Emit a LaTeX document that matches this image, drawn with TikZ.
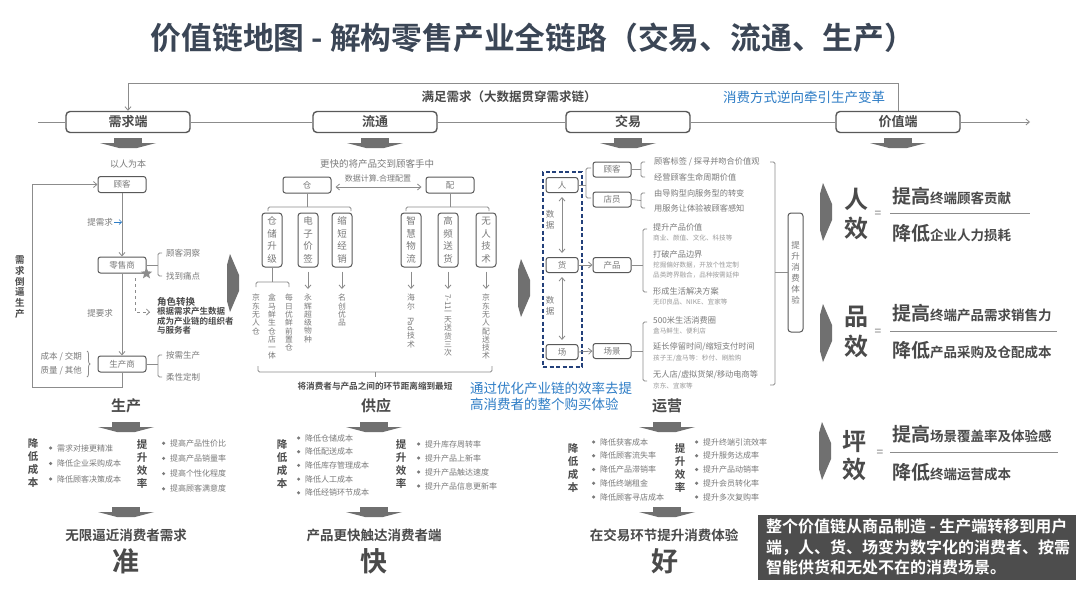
\documentclass[tikz,border=0pt]{standalone}
\usepackage{fontspec}
\setmainfont{Noto Sans CJK SC}[BoldFont={Noto Sans CJK SC Bold}]
\usetikzlibrary{arrows.meta,shapes.geometric,decorations.pathreplacing}
\definecolor{cln}{HTML}{8C8C8C}
\definecolor{cbd}{HTML}{595959}
\definecolor{ctx}{HTML}{7A7A7A}
\definecolor{csub}{HTML}{9A9A9A}
\definecolor{chd}{HTML}{4A4A4A}
\definecolor{cblue}{HTML}{2E7DC6}
\definecolor{cnavy}{HTML}{23407A}
\definecolor{ctitle}{HTML}{3B4656}
\definecolor{carr}{HTML}{707070}
\definecolor{cdark}{HTML}{4D4D4D}
\newcommand\fs[2]{\fontsize{#1}{#2}\selectfont}
\begin{document}
\begin{tikzpicture}[x=1pt,y=-1pt,
 ln/.style={draw=cln,line width=0.8pt},
 arr/.style={ln,-{Straight Barb[length=3.5pt,width=6pt]}},
 darr/.style={ln,{Straight Barb[length=3.5pt,width=6pt]}-{Straight Barb[length=3.5pt,width=6pt]}},
 brk/.style={ln,rounded corners=1.5pt},
 bigbox/.style={draw=cbd,line width=1.4pt,rounded corners=4pt,fill=white,minimum width=124pt,minimum height=21pt,inner sep=0pt,text=chd,font=\fs{13}{13}\bfseries},
 sbox/.style={draw=cbd,line width=1pt,rounded corners=2.5pt,fill=white,minimum width=48pt,minimum height=16pt,inner sep=0pt,text=ctx,font=\fs{8.5}{9}},
 tbox/.style={sbox,minimum width=38pt,minimum height=15pt},
 vbox/.style={draw=cbd,line width=1pt,rounded corners=3pt,minimum width=20pt,minimum height=54pt,inner sep=0pt,text=ctx,align=center,font=\fs{9.5}{12.5}},
 vtx/.style={text=ctx,align=center,inner sep=0pt,anchor=north,font=\fs{7.8}{8.3}},
 tx/.style={text=ctx,inner sep=0pt,font=\fs{8.5}{10}},
 itm/.style={tx,anchor=west,font=\fs{8.2}{9}},
 sub/.style={text=csub,inner sep=0pt,anchor=west,font=\fs{6.6}{7}},
 hd/.style={text=chd,inner sep=0pt,font=\fs{15}{15}\bfseries},
 vhd/.style={text=chd,inner sep=0pt,align=center,font=\fs{10.5}{13}\bfseries},
 concl/.style={text=chd,inner sep=0pt,font=\fs{13.5}{14}\bfseries},
 big/.style={text=chd,inner sep=0pt,font=\fs{27}{27}\bfseries},
 bl/.style={anchor=west,inner sep=0pt,text=ctx,font=\fs{8}{9},label={[circle,fill=ctx,inner sep=1.2pt,label distance=4.5pt]left:{}}},
 eff/.style={text=chd,inner sep=0pt,font=\fs{24}{24}\bfseries},
 frac/.style={text=chd,inner sep=0pt,anchor=west,font=\fs{13.5}{14}\bfseries},
 dnarr/.pic={\fill[carr] (-14,0) rectangle (14,5); \fill[carr] (-28,5) -- (28,5) -- (9,10) -- (-9,10) -- cycle;},
 chev/.pic={\fill[carr] (-6,-18) -- (-3,-29) -- (6,-8) -- (6,8) -- (-3,29) -- (-6,18) -- cycle;}
]
\fill[white] (0,0) rectangle (1080,608);
\useasboundingbox (0,0) rectangle (1080,608);

% title
\node[font=\fs{30.8}{31}\bfseries,text=ctitle,inner sep=0pt] (title) at (533,38) {价值链地图 - 解构零售产业全链路（交易、流通、生产）};

% top axis
\node[font=\fs{12.5}{13}\bfseries,text=chd,inner sep=0pt] (mz) at (509,97) {满足需求（大数据贯穿需求链）};
\node[font=\fs{13.5}{14},text=cblue,inner sep=0pt] (xf) at (804,97) {消费方式逆向牵引生产变革};
\node[bigbox] (xq) at (128,122) {需求端};
\node[bigbox] (lt) at (375,122) {流通};
\node[bigbox] (jy) at (628,122) {交易};
\node[bigbox] (jz) at (898,122) {价值端};
\coordinate (axL) at (38,122);
\coordinate (axR) at (1030,122);
\draw[ln] (axL) -- (xq.west);
\draw[ln] (xq.east) -- (lt.west);
\draw[ln] (lt.east) -- (jy.west);
\draw[ln] (jy.east) -- (jz.west);
\draw[arr] (jz.east) -- (axR);
\draw[arr] (jz.north) -- ++(0,-27) -| (xq.north);
\pic at (128,138) {dnarr};
\pic at (375,138) {dnarr};
\pic at (628,138) {dnarr};
\pic at (898,138) {dnarr};

% ---------- demand column
\node[tx,font=\fs{9}{10}] (yrwb) at (128,164) {以人为本};
\node[sbox] (gk) at (122,184.5) {顾客};
\node[sbox] (lss) at (122,265) {零售商};
\node[sbox] (scs) at (122,364) {生产商};
\draw[arr] (gk) -- (lss);
\draw[arr] (lss) -- (scs);
\node[tx] (txq) at (100,222) {提需求};
\coordinate (tqa) at (114,222);
\draw[cblue,line width=0.6pt,-{Straight Barb[length=2.5pt,width=5pt]}] (tqa) -- (tqa -| gk.south);
\node[tx] (tyq) at (100,313) {提要求};
\node[star,star points=5,star point ratio=2.3,fill=cln,minimum size=12pt,inner sep=0pt] (st) at (lss.south east) {};
\draw[brk] (162,253) -- (158,253) -- (158,276) -- (162,276);
\draw[ln] (lss.east) -- (158,265);
\node[tx,anchor=west] (gkdc) at (166,253) {顾客洞察};
\node[tx,anchor=west] (zdtd) at (166,276) {找到痛点};
\coordinate (dsh) at (135,278);
\coordinate (dend) at (150,312);
\draw[ln,dashed,-{Straight Barb[length=3pt,width=6pt]}] (dsh) |- (dend);
\node[font=\fs{9.5}{10}\bfseries,text=chd,anchor=west,inner sep=0pt] (jszh) at (157,302) {角色转换};
\node[font=\fs{8.5}{9.6}\bfseries,text=chd,anchor=north west,align=left,inner sep=0pt] (gjxq) at (157,307) {根据需求产生数据\\成为产业链的组织者\\与服务者};
\node[tx,anchor=east] (cbjq) at (82,357) {成本 / 交期};
\node[tx,anchor=east] (zlqt) at (82,371) {质量 / 其他};
\draw[ln,decorate,decoration={brace,amplitude=3pt}] (87,351) -- (87,377);
\draw[brk] (162,355) -- (158,355) -- (158,377) -- (162,377);
\draw[ln] (scs.east) -- (158,364);
\node[tx,anchor=west] (axsc) at (166,355) {按需生产};
\node[tx,anchor=west] (rxdz) at (166,377) {柔性定制};
\draw[arr] (scs.south) |- (32,387) |- (gk.west);
\node[font=\fs{9.5}{10.8}\bfseries,text=chd,align=center,inner sep=0pt] (xqdb) at (20,287) {需\\求\\倒\\逼\\生\\产};

\node[hd] (sc) at (126,406) {生产};
\pic at (126,422) {dnarr};
\node[vhd] (scj) at (33,463) {降\\低\\成\\本};
\node[vhd] (sct) at (142,464) {提\\升\\效\\率};
\foreach \t [count=\i] in {需求对接更精准,降低企业采购成本,降低顾客决策成本}
  \node[bl] (scl\i) at (57,432.5+15.5*\i) {\t};
\foreach \t [count=\i] in {提高产品性价比,提高产品销量率,提高个性化程度,提高顾客满意度}
  \node[bl] (scr\i) at (170,428+15.2*\i) {\t};
\pic at (126,507) {dnarr};
\node[concl] (zhun1) at (126,535) {无限逼近消费者需求};
\node[big] (zhun) at (126,561) {准};

% ---------- circulation column
\node[tx,font=\fs{9.5}{10}] (gkjd) at (377,164) {更快的将产品交到顾客手中};
\node[sbox] (cang) at (307,185) {仓};
\node[sbox] (pei) at (450,185) {配};
\draw[darr] ([xshift=4pt,yshift=-2pt]cang.east) -- ([xshift=-4pt,yshift=-2pt]pei.west);
\node[tx,font=\fs{8}{9}] (sjjs) at (378,178) {数据计算.合理配置};
\draw[ln] (cang.south) -- (307,207);
\draw[brk] (268,211) -- (268,207) -- (351,207) -- (351,211);
\draw[ln] (pei.south) -- (450,207);
\draw[brk] (406,211) -- (406,207) -- (489,207) -- (489,211);
\node[vbox] (v1) at (272,240) {仓\\储\\升\\级};
\node[vbox] (v2) at (308,240) {电\\子\\价\\签};
\node[vbox] (v3) at (342,240) {缩\\短\\经\\销};
\node[vbox] (v4) at (411,240) {智\\慧\\物\\流};
\node[vbox] (v5) at (448,240) {高\\频\\送\\货};
\node[vbox] (v6) at (486,240) {无\\人\\技\\术};
\draw[ln] (v1.south) -- (272,282);
\draw[brk] (256,287) -- (256,282) -- (289,282) -- (289,287);
\node[vtx] (i1) at (256,294) {京\\东\\无\\人\\仓};
\node[vtx] (i2) at (272,294) {盒\\马\\鲜\\生\\仓\\店\\一\\体};
\node[vtx] (i3) at (289,294) {每\\日\\优\\鲜\\前\\置\\仓};
\node[vtx] (i4) at (308,294) {永\\辉\\超\\级\\物\\种};
\node[vtx] (i5) at (342,294) {名\\创\\优\\品};
\node[vtx] (i6) at (411,294) {海\\尔\\\rotatebox{-90}{Pad}\\技\\术};
\node[vtx] (i7) at (448,294) {\rotatebox{-90}{7-11}\\一\\天\\送\\货\\三\\次};
\node[vtx] (i8) at (486,294) {京\\东\\无\\人\\配\\送\\技\\术};
\draw[arr,shorten <=4pt,shorten >=5pt] (v2.south) -- (i4.north);
\draw[arr,shorten <=4pt,shorten >=5pt] (v3.south) -- (i5.north);
\draw[arr,shorten <=4pt,shorten >=5pt] (v4.south) -- (i6.north);
\draw[arr,shorten <=4pt,shorten >=5pt] (v5.south) -- (i7.north);
\draw[arr,shorten <=4pt,shorten >=5pt] (v6.south) -- (i8.north);
\draw[brk] (258,366) -- (258,372) -- (492,372) -- (492,366);
\draw[ln] (375,372) -- (375,377);
\node[font=\fs{8.6}{9}\bfseries,text=chd,inner sep=0pt] (jxf) at (375,386) {将消费者与产品之间的环节距离缩到最短};
\node[hd] (gy) at (376,406) {供应};
\pic at (374,422) {dnarr};
\node[vhd] (gyj) at (282,464) {降\\低\\成\\本};
\node[vhd] (gyt) at (401,464) {提\\升\\效\\率};
\foreach \t [count=\i] in {降低仓储成本,降低配送成本,降低库存管理成本,降低人工成本,降低经销环节成本}
  \node[bl] (gyl\i) at (305,424.3+13.7*\i) {\t};
\foreach \t [count=\i] in {提升库存周转率,提升产品上新率,提升产品触达速度,提升产品信息更新率}
  \node[bl] (gyr\i) at (425,430+14*\i) {\t};
\pic at (374,507) {dnarr};
\node[concl] (kuai1) at (374,535) {产品更快触达消费者端};
\node[big] (kuai) at (374,561) {快};

\pic at (233,283) {chev};
\pic at (524,288) {chev};

% ---------- trade column
\node[draw=cnavy,line width=1.6pt,dash pattern=on 4pt off 2.5pt,minimum width=39pt,minimum height=195pt,inner sep=0pt] (dbox) at (562.5,269.5) {};
\node[tbox,minimum width=32pt] (ren) at (562,185) {人};
\node[tbox,minimum width=32pt] (huo) at (562,265) {货};
\node[tbox,minimum width=32pt] (chang) at (562,352) {场};
\draw[darr,shorten <=4pt,shorten >=4pt] (ren) -- (huo);
\draw[darr,shorten <=4pt,shorten >=4pt] (huo) -- (chang);
\node[tx,align=center,font=\fs{8.5}{10.5}] (sj1) at (550,220) {数\\据};
\node[tx,align=center,font=\fs{8.5}{10.5}] (sj2) at (550,306) {数\\据};
\node[tbox] (gk3) at (612,169.5) {顾客};
\node[tbox] (dy) at (612,199.5) {店员};
\node[tbox] (cp) at (612,265) {产品};
\node[tbox] (cj) at (612,351) {场景};
\draw[ln] (ren.east) -- (586,185);
\draw[brk] (591,168) -- (586,168) -- (586,198) -- (591,198);
\draw[arr] (huo.east) -- (cp.west);
\draw[arr] (chang.east) -- (cj.west);
\draw[ln] (gk3.east) -- (641,169.5);
\draw[brk] (645,162) -- (641,162) -- (641,177) -- (645,177);
\draw[ln] (dy.east) -- (641,200.5);
\draw[brk] (645,193) -- (641,193) -- (641,208) -- (645,208);
\node[itm] (g1) at (654,162) {顾客标签 / 探寻并吻合价值观};
\node[itm] (g2) at (654,177) {经营顾客生命周期价值};
\node[itm] (d1) at (654,193) {由导购型向服务型的转变};
\node[itm] (d2) at (654,208) {用服务让体验被顾客感知};
\draw[ln] (cp.east) -- (643,265);
\draw[brk] (647,229) -- (643,229) -- (643,292) -- (647,292);
\node[itm] (p1) at (653,227) {提升产品价值};
\node[sub] (p1s) at (653,238) {商业、颜值、文化、科技等};
\node[itm] (p2) at (653,254) {打破产品边界};
\node[sub] (p2s) at (653,265) {挖掘偏好数据，开放个性定制};
\node[sub] (p2t) at (653,275) {品类跨界融合，品种按需延伸};
\node[itm] (p3) at (653,291) {形成生活解决方案};
\node[sub] (p3s) at (653,302) {无印良品、NIKE、宜家等};
\draw[ln] (cj.east) -- (643,351);
\draw[brk] (647,322) -- (643,322) -- (643,381) -- (647,381);
\node[itm] (c1) at (653,320) {500米生活消费圈};
\node[sub] (c1s) at (653,331) {盒马鲜生、便利店};
\node[itm] (c2) at (653,347) {延长停留时间/缩短支付时间};
\node[sub] (c2s) at (653,358) {孩子王/盒马等：秒付、刷脸购};
\node[itm] (c3) at (653,375) {无人店/虚拟货架/移动电商等};
\node[sub] (c3s) at (653,386) {京东、宜家等};
\node[draw=cbd,line width=1pt,rounded corners=3pt,minimum width=15pt,minimum height=119pt,inner sep=0pt,align=center,text=ctx,font=\fs{8.5}{11}] (tsxf) at (795.5,272.5) {提\\升\\消\\费\\体\\验};
\draw[brk] (770,162) -- (775,162) -- (775,385) -- (770,385);
\draw[ln] (775,272.5) -- (tsxf.west);

\node[font=\fs{13.5}{16},text=cblue,anchor=north west,align=left,inner sep=0pt] (blu) at (470,382) {通过优化产业链的效率去提\\高消费者的整个购买体验};
\node[hd] (yy) at (667,406) {运营};
\pic at (667,422) {dnarr};
\node[vhd] (yyj) at (573,468) {降\\低\\成\\本};
\node[vhd] (yyt) at (680,468) {提\\升\\效\\率};
\foreach \t [count=\i] in {降低获客成本,降低顾客流失率,降低产品滞销率,降低终端租金,降低顾客寻店成本}
  \node[bl] (yyl\i) at (600,428.25+13.75*\i) {\t};
\foreach \t [count=\i] in {提升终端引流效率,提升服务达成率,提升产品动销率,提升会员转化率,提升多次复购率}
  \node[bl] (yyr\i) at (703,428.25+13.75*\i) {\t};
\pic at (667,507) {dnarr};
\node[concl] (hao1) at (664,535) {在交易环节提升消费体验};
\node[big] (hao) at (665,561) {好};

% ---------- value column
\pic at (826,212) {chev};
\pic at (826,333) {chev};
\pic at (825,451) {chev};
\node[eff] (r1a) at (856,199) {人};
\node[eff] (r1b) at (856,228) {效};
\node[text=ctx,inner sep=0pt,font=\fs{12}{12}] (eq1) at (878,214) {=};
\coordinate (l1a) at (890,213); \coordinate (l1b) at (1030,213);
\draw[draw=cln,line width=0.8pt] (l1a) -- (l1b);
\node[frac] (t1) at (892,196) {{\fs{19}{19}提高}终端顾客贡献};
\node[frac] (b1) at (892,233) {{\fs{19}{19}降低}企业人力损耗};
\node[eff] (r2a) at (856,317) {品};
\node[eff] (r2b) at (856,346) {效};
\node[text=ctx,inner sep=0pt,font=\fs{12}{12}] (eq2) at (878,332) {=};
\coordinate (l2a) at (890,331); \coordinate (l2b) at (1057,331);
\draw[draw=cln,line width=0.8pt] (l2a) -- (l2b);
\node[frac] (t2) at (892,313) {{\fs{19}{19}提高}终端产品需求销售力};
\node[frac] (b2) at (892,350) {{\fs{19}{19}降低}产品采购及仓配成本};
\node[eff] (r3a) at (854,442) {坪};
\node[eff] (r3b) at (854,469) {效};
\node[text=ctx,inner sep=0pt,font=\fs{12}{12}] (eq3) at (880,453) {=};
\coordinate (l3a) at (890,452); \coordinate (l3b) at (1058,452);
\draw[draw=cln,line width=0.8pt] (l3a) -- (l3b);
\node[frac] (t3) at (892,434) {{\fs{19}{19}提高}场景覆盖率及体验感};
\node[frac] (b3) at (892,472) {{\fs{19}{19}降低}终端运营成本};

\node[fill=cdark,minimum width=318pt,minimum height=65pt,anchor=north west,inner sep=0pt] (db) at (758,515) {};
\node[anchor=north west,text=white,font=\fs{16}{20.3}\bfseries,align=left,inner sep=0pt] (dbt) at (766,519) {整个价值链从商品制造 - 生产端转移到用户\\端，人、货、场变为数字化的消费者、按需\\智能供货和无处不在的消费场景。};
\end{tikzpicture}
\end{document}
